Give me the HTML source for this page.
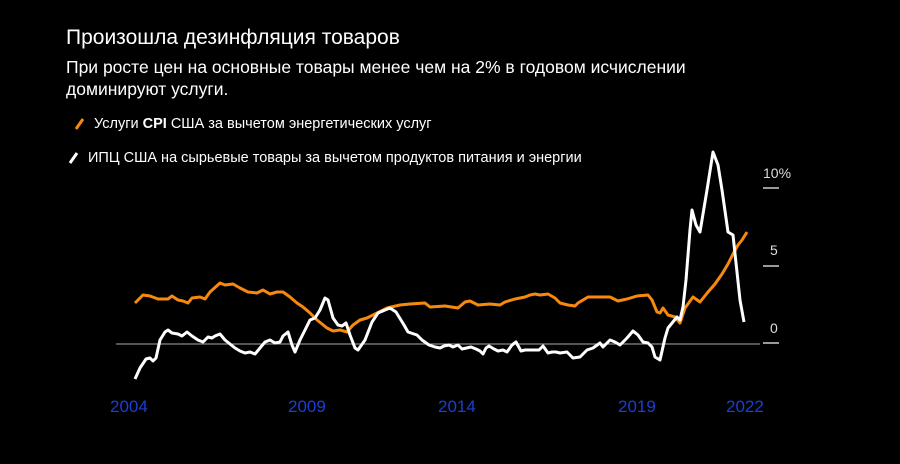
<!DOCTYPE html>
<html><head><meta charset="utf-8"><style>
html,body{margin:0;padding:0;background:#000;}
body{width:900px;height:464px;position:relative;overflow:hidden;font-family:"Liberation Sans",sans-serif;color:#fff;}
.t{position:absolute;left:66px;top:26px;font-size:21px;}
.s{position:absolute;left:66px;top:56px;font-size:17.5px;line-height:22px;}
.l{position:absolute;left:94px;font-size:14.5px;}
.x{position:absolute;top:397px;font-size:17px;color:#1a3fd6;}
.y{position:absolute;left:763px;font-size:14px;color:#ddd;}
</style></head><body>
<div class="t">Произошла дезинфляция товаров</div>
<div class="s">При росте цен на основные товары менее чем на 2% в годовом исчислении<br>доминируют услуги.</div>
<div class="l" style="top:116px">Услуги <b>CPI</b> США за вычетом энергетических услуг</div>
<div class="l" style="top:150px;left:88px">ИПЦ США на сырьевые товары за вычетом продуктов питания и энергии</div>
<div class="y" style="top:165px">10%</div>
<div class="y" style="top:242px;left:770px">5</div>
<div class="y" style="top:320px;left:770px">0</div>
<div class="x" style="left:110px">2004</div>
<div class="x" style="left:288px">2009</div>
<div class="x" style="left:438px">2014</div>
<div class="x" style="left:618px">2019</div>
<div class="x" style="left:726px">2022</div>
<svg width="900" height="464" style="position:absolute;left:0;top:0">
<line x1="76" y1="129" x2="83" y2="119" stroke="#f7890c" stroke-width="3"/>
<line x1="70" y1="163" x2="77" y2="153" stroke="#fff" stroke-width="3"/>
<line x1="116" y1="344" x2="760" y2="344" stroke="#aaa" stroke-width="1"/>
<g stroke="#ccc" stroke-width="1.5"><line x1="763" y1="188" x2="779" y2="188"/><line x1="763" y1="266" x2="779" y2="266"/><line x1="763" y1="343" x2="779" y2="343"/></g>
<polyline fill="none" stroke="#f7890c" stroke-width="3" stroke-linejoin="round" points="135,303 143,295 150,296 158,299 168,299 172,296 178,300 183,301 188,303 192,298 200,297 205,299 210,292 220,283 225,285 233,284 240,288 248,292 257,293 263,290 270,294 277,292 283,292 290,297 297,303 303,307 310,313 317,320 327,328 333,331 340,330 347,332 353,325 360,320 367,318 377,313 387,308 400,305 410,304 425,303 430,307 445,306 458,308 465,302 470,301 478,305 490,304 500,305 505,302 515,299 525,297 530,295 535,294 540,295 548,294 555,298 560,303 568,305 575,306 578,303 588,297 610,297 618,301 627,299 637,296 648,295 652,300 657,312 660,313 663,308 668,315 675,317 680,323 685,308 693,297 700,302 708,292 715,284 722,274 728,264 733,254 738,245 742,240 747,232"/>
<polyline fill="none" stroke="#fff" stroke-width="3" stroke-linejoin="round" points="135,379 140,368 146,359 150,358 153,361 156,358 160,340 165,332 168,330 172,333 178,334 182,336 187,332 192,336 198,340 203,342 208,337 212,338 215,336 220,334 225,340 230,344 235,348 240,351 245,353 250,352 255,354 260,348 265,342 270,340 275,343 280,342 283,336 288,332 292,345 295,352 300,340 305,330 310,320 315,318 320,310 325,298 328,300 333,318 338,325 342,326 346,323 350,335 355,348 358,350 365,340 372,322 378,313 385,310 390,308 396,312 404,325 408,332 417,335 422,340 429,345 435,347 440,348 444,346 449,345 453,347 458,345 462,349 471,347 476,349 480,351 483,354 486,348 489,346 494,349 498,351 503,350 507,352 512,345 516,342 521,351 525,350 534,350 539,350 543,346 548,353 552,352 556,352 560,353 567,352 573,358 580,357 587,350 593,348 600,343 603,347 610,340 615,342 620,345 627,338 633,331 638,335 643,342 648,343 652,347 655,357 660,360 665,338 668,328 677,317 680,320 683,307 686,280 690,230 692,210 696,225 700,232 707,190 713,152 718,165 722,190 728,232 733,235 740,300 744,322"/>
</svg>
</body></html>
